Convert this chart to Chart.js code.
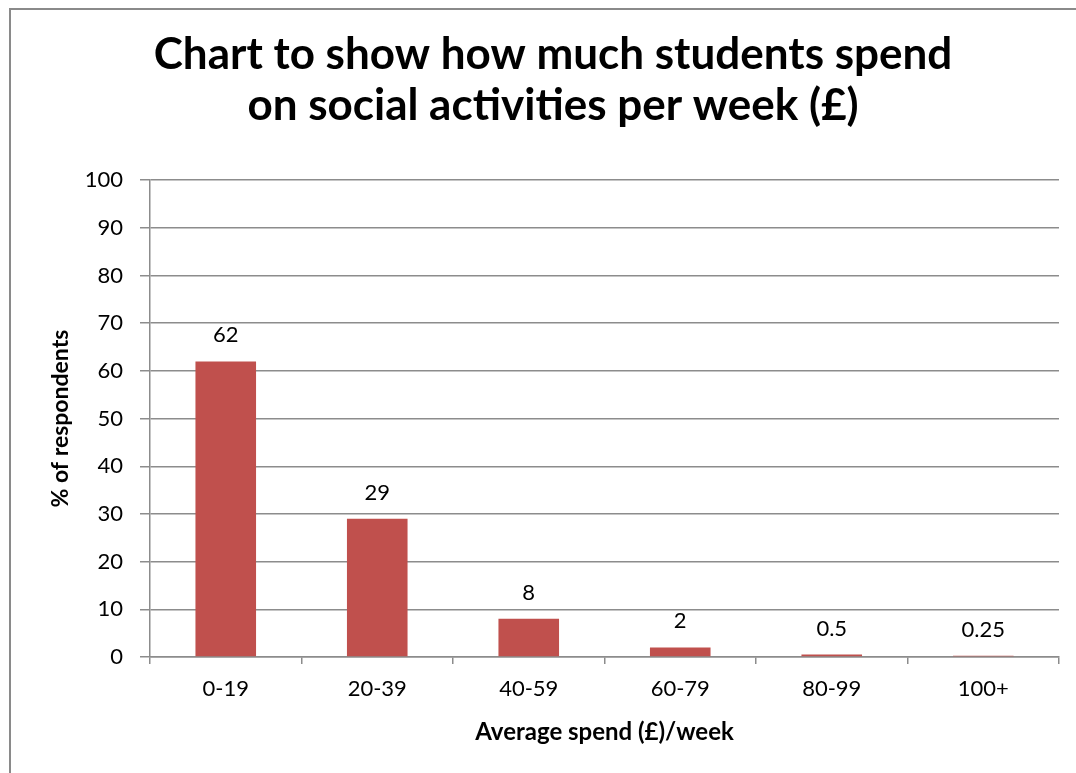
<!DOCTYPE html>
<html>
<head>
<meta charset="utf-8">
<script src="https://cdn.jsdelivr.net/npm/chart.js@4/dist/chart.umd.min.js"></script>
<style>
  body { margin: 0; background: #fff; }
  #wrap { position: relative; width: 1076px; height: 773px; }
</style>
</head>
<body>
<div id="wrap"><canvas id="spendChart" width="1076" height="773"></canvas></div>
<script>
var categorias = ['0-19', '20-39', '40-59', '60-79', '80-99', '100+'];
var percentagens = [62, 29, 8, 2, 0.5, 0.25];
var tituloLinhas = ['Chart to show how much students spend', 'on social activities per week (£)'];
var fonte = 'Lato, "Open Sans", sans-serif';

// moldura cinza do grafico (estilo Excel) e rotulos de valor
var molduraPlugin = {
    id: 'moldura',
    beforeDraw: function(chart) {
        var ctx = chart.ctx;
        ctx.save();
        ctx.fillStyle = '#fff';
        ctx.fillRect(0, 0, chart.width, chart.height);
        ctx.strokeStyle = '#8a8a8a';
        ctx.lineWidth = 2;
        ctx.strokeRect(10, 9, chart.width + 20, chart.height + 20);
        ctx.restore();
    },
    afterDatasetsDraw: function(chart) {
        var ctx = chart.ctx;
        var meta = chart.getDatasetMeta(0);
        ctx.save();
        ctx.font = '22px ' + fonte;
        ctx.fillStyle = '#000';
        ctx.textAlign = 'center';
        ctx.textBaseline = 'alphabetic';
        meta.data.forEach(function(bar, i) {
            ctx.fillText(String(percentagens[i]), bar.x, bar.y - 19);
        });
        ctx.restore();
    }
};

var ctx = document.getElementById('spendChart').getContext('2d');

var grafico = new Chart(ctx, {
    type: 'bar',
    data: {
        labels: categorias,
        datasets: [{
            label: '% of respondents',
            data: percentagens,
            backgroundColor: '#C0504D',
            categoryPercentage: 1,
            barPercentage: 0.4
        }]
    },
    options: {
        responsive: false,
        animation: false,
        layout: {
            padding: { left: 47, right: 17, top: 0, bottom: 26 }
        },
        scales: {
            x: {
                afterFit: function(scale) { scale.height = 90; },
                grid: {
                    drawOnChartArea: false,
                    tickLength: 7,
                    color: '#8c8c8c',
                    lineWidth: 1.5
                },
                border: { color: '#8c8c8c', width: 1.5 },
                ticks: {
                    color: '#000',
                    font: { family: fonte, size: 22 },
                    padding: 12
                },
                title: {
                    display: true,
                    text: 'Average spend (£)/week',
                    color: '#000',
                    font: { family: fonte, size: 24, weight: 'bold' },
                    padding: { top: 0, bottom: 0 }
                }
            },
            y: {
                min: 0,
                max: 100,
                afterFit: function(scale) { scale.width = 103; },
                ticks: {
                    stepSize: 10,
                    color: '#000',
                    font: { family: fonte, size: 22 },
                    padding: 17
                },
                grid: {
                    color: '#8c8c8c',
                    lineWidth: 1.5,
                    tickLength: 10
                },
                border: { color: '#8c8c8c', width: 1.5 },
                title: {
                    display: true,
                    text: '% of respondents',
                    color: '#000',
                    font: { family: fonte, size: 23, weight: 'bold' },
                    padding: { top: 0, bottom: 0 }
                }
            }
        },
        plugins: {
            legend: { display: false },
            tooltip: { enabled: false },
            title: {
                display: true,
                text: tituloLinhas,
                color: '#000',
                font: { family: fonte, size: 44, weight: 'bold', lineHeight: 1.15 },
                padding: { top: 30, bottom: 49 }
            }
        }
    },
    plugins: [molduraPlugin]
});
</script>
</body>
</html>
